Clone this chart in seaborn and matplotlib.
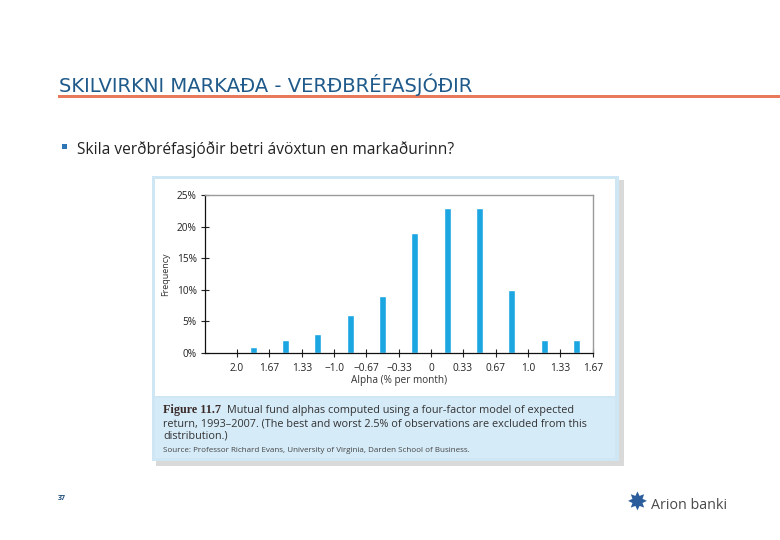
import matplotlib
matplotlib.use("Agg")
import matplotlib.pyplot as plt
import seaborn as sns
import pandas as pd
from matplotlib.patches import Rectangle
from matplotlib.ticker import FuncFormatter

# Data
bin_centers = [-1.83, -1.5, -1.17, -0.83, -0.5, -0.17, 0.17, 0.5, 0.83, 1.17, 1.5]
frequency = [1, 2, 3, 6, 9, 19, 23, 23, 10, 2, 2]
tick_values = [-2.0, -1.67, -1.33, -1.0, -0.67, -0.33, 0, 0.33, 0.67, 1.0, 1.33, 1.67]
tick_labels = ["2.0", "1.67", "1.33", "\u22121.0", "\u22120.67", "\u22120.33", "0",
               "0.33", "0.67", "1.0", "1.33", "1.67"]
y_ticks = [0, 5, 10, 15, 20, 25]

df = pd.DataFrame({"alpha": bin_centers, "freq": frequency})

sns.set_theme(style="white")
plt.rcParams["font.family"] = ["Open Sans", "DejaVu Sans"]

W, H = 780, 540
fig = plt.figure(figsize=(W / 100, H / 100), dpi=100)
fig.patch.set_facecolor("white")


def fx(x):
    return x / W


def fy(y):
    return 1 - y / H


def rect(x0, y0, x1, y1, color, z=0):
    fig.patches.append(Rectangle((fx(x0), fy(y1)), fx(x1) - fx(x0), fy(y0) - fy(y1),
                                 transform=fig.transFigure, facecolor=color,
                                 edgecolor="none", zorder=z))


# slide header
fig.text(fx(59), fy(92), "SKILVIRKNI MARKAÐA - VERÐBRÉFASJÓÐIR", color="#1f5a8a",
         fontsize=14.1, family=["DejaVu Sans"], va="baseline")
rect(58, 94.5, 780, 97.5, "#e8795a")
rect(62, 144, 67, 149, "#2e75b6")
fig.text(fx(77), fy(154), "Skila verðbréfasjóðir betri ávöxtun en markaðurinn?",
         color="#222222", fontsize=11.2, va="baseline")

# figure panel with shadow
rect(156, 180, 624, 466, "#d9d9d9", z=-3)
rect(152, 176, 619, 461, "#cfe7f5", z=-2)
rect(155, 179, 615, 396, "white", z=-1)
rect(155, 398, 615, 458, "#d6ebf8", z=-1)

# histogram
ax = fig.add_axes([fx(205), fy(353), fx(593) - fx(205), fy(195) - fy(353)])
sns.barplot(data=df, x="alpha", y="freq", native_scale=True, width=0.22,
            color="#1ba6e2", saturation=1, ax=ax)
ax.set_xlim(-2.33, 1.67)
ax.set_ylim(0, 25)
ax.set_xticks(tick_values)
ax.set_xticklabels(tick_labels)
ax.set_yticks(y_ticks)
ax.yaxis.set_major_formatter(FuncFormatter(lambda v, p: f"{v:.0f}%"))
ax.tick_params(axis="both", direction="inout", length=6, width=0.8, colors="#222222",
               labelsize=7.3, pad=3, bottom=True, left=True)
ax.tick_params(axis="x", pad=4)
ax.set_xlabel("Alpha (% per month)", fontsize=7.2, color="#333333", labelpad=1)
ax.set_ylabel("Frequency", fontsize=6.5, color="#333333", labelpad=5)
for side in ["left", "bottom"]:
    ax.spines[side].set_color("#111111")
    ax.spines[side].set_linewidth(0.9)
for side in ["top", "right"]:
    ax.spines[side].set_color("#9a9a9a")
    ax.spines[side].set_linewidth(1.0)
ax.set_facecolor("white")

# caption
fig.text(fx(163), fy(413), "Figure 11.7", fontsize=8.7, fontweight="bold",
         family=["Liberation Serif", "DejaVu Serif"], color="#3a2a28", va="baseline")
fig.text(fx(227), fy(413), "Mutual fund alphas computed using a four-factor model of expected",
         fontsize=7.85, color="#333333", va="baseline")
fig.text(fx(163), fy(426),
         "return, 1993\u20132007. (The best and worst 2.5% of observations are excluded from this",
         fontsize=7.85, color="#333333", va="baseline")
fig.text(fx(163), fy(439), "distribution.)", fontsize=7.85, color="#333333", va="baseline")
fig.text(fx(163), fy(452),
         "Source: Professor Richard Evans, University of Virginia, Darden School of Business.",
         fontsize=5.8, color="#444444", va="baseline")

# footer
fig.text(fx(58), fy(500), "37", fontsize=5, color="#1f4e79", fontweight="bold", va="baseline")
fig.text(fx(637), fy(503), "\u2738", fontsize=18, color="#2b5c9c", ha="center", va="center",
         family=["DejaVu Sans"])
fig.text(fx(651), fy(509), "Arion banki", fontsize=10.3, color="#4a4a4a", va="baseline")

fig.savefig("out.png", dpi=100)
